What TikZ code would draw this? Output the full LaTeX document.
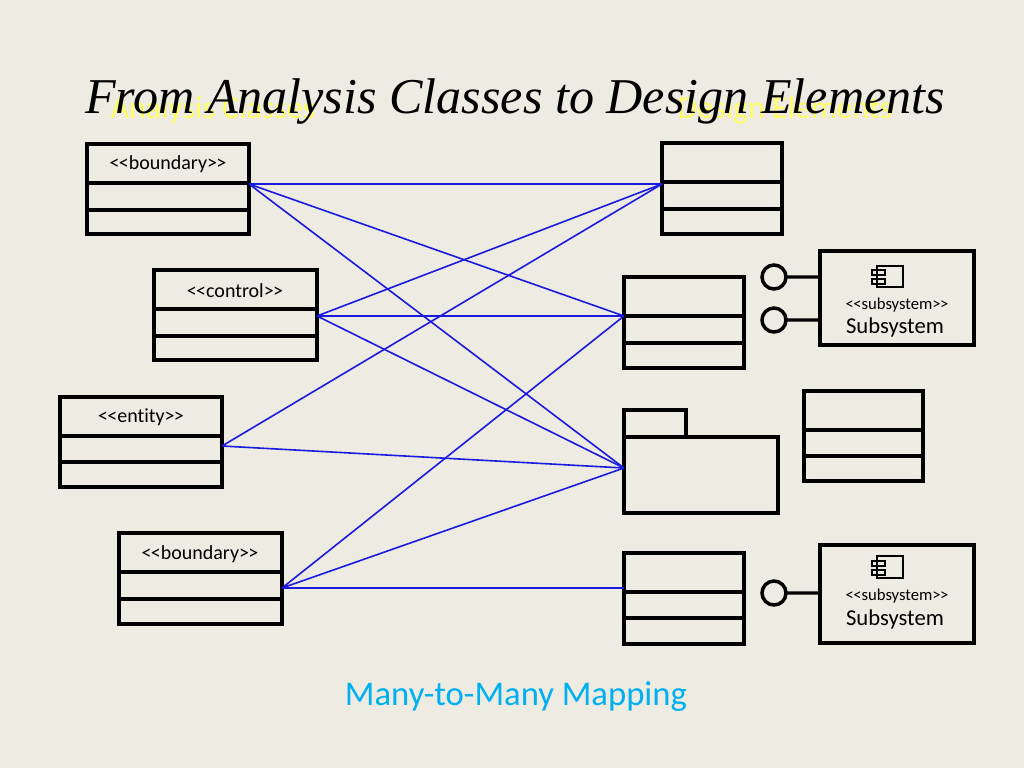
\documentclass[tikz,border=0pt]{standalone}
\usepackage{fontspec}
\setmainfont[Ligatures=NoCommon]{Carlito}
\newfontfamily\titlefont{Liberation Serif}
\definecolor{bg}{HTML}{EEEBE2}
\definecolor{ln}{HTML}{1A1AE0}
\definecolor{yl}{HTML}{FFFF66}
\definecolor{cy}{HTML}{00B0F0}
\newcommand\st[1]{<\kern-0.5pt<#1>\kern-0.5pt>}
\begin{document}
\begin{tikzpicture}[x=0.75pt,y=-0.75pt,
  bx/.style={draw=black,line width=2.6pt},
  con/.style={draw=ln,line width=1.2pt},
  lab/.style={font=\fontsize{15}{17}\selectfont,inner sep=0},
  cmp/.style={draw=black,line width=1pt}]
\fill[bg] (0,0) rectangle (1024,768);
\useasboundingbox (0,0) rectangle (1024,768);
% yellow labels
\node[yl,font=\fontsize{24}{26}\selectfont] (la) at (213,110) {Analysis Classes};
\node[yl,font=\fontsize{24}{26}\selectfont] (ld) at (785,110) {Design Elements};
\node (title) at (515,102) {\resizebox{645pt}{!}{\titlefont\itshape From Analysis Classes to Design Elements}};
% analysis classes
\draw[bx] (87,144) rectangle (249,234); \draw[bx] (87,183)--(249,183) (87,210)--(249,210);
\node[lab] (a1) at (168,164) {\st{boundary}};
\draw[bx] (154,270) rectangle (317,360); \draw[bx] (154,309)--(317,309) (154,336)--(317,336);
\node[lab] (a2) at (235,291) {\st{control}};
\draw[bx] (60,397) rectangle (222,487); \draw[bx] (60,436)--(222,436) (60,462)--(222,462);
\node[lab] (a3) at (141,417) {\st{entity}};
\draw[bx] (119,533) rectangle (282,624); \draw[bx] (119,572)--(282,572) (119,599)--(282,599);
\node[lab] (a4) at (200,554) {\st{boundary}};
% design elements
\draw[bx] (662,143) rectangle (782,234); \draw[bx] (662,182)--(782,182) (662,209)--(782,209);
\draw[bx] (624,277) rectangle (744,368); \draw[bx] (624,316)--(744,316) (624,343)--(744,343);
\draw[bx] (624,410) rectangle (686,437); \draw[bx] (624,437) rectangle (778,513);
\draw[bx] (804,391) rectangle (923,481); \draw[bx] (804,430)--(923,430) (804,456)--(923,456);
\draw[bx] (624,553) rectangle (744,644); \draw[bx] (624,592)--(744,592) (624,618)--(744,618);
% subsystems
\draw[bx] (820,251) rectangle (974,345);
\draw[bx] (774,277) circle (12) (786,277)--(820,277);
\draw[bx] (774,320) circle (12) (786,320)--(820,320);
\draw[cmp] (877,266) rectangle (903,287) (872,270) rectangle (885,275) (872,279) rectangle (885,284);
\node[inner sep=0,font=\fontsize{12.5}{14}\selectfont] (s1a) at (897,305) {\st{subsystem}};
\node[inner sep=0,font=\fontsize{17}{19}\selectfont] (s1b) at (895,327) {Subsystem};
\draw[bx] (820,545) rectangle (974,643);
\draw[bx] (774,593) circle (12) (786,593)--(820,593);
\draw[cmp] (877,556) rectangle (903,578) (872,561) rectangle (885,566) (872,570) rectangle (885,575);
\node[inner sep=0,font=\fontsize{12.5}{14}\selectfont] (s2a) at (897,596) {\st{subsystem}};
\node[inner sep=0,font=\fontsize{17}{19}\selectfont] (s2b) at (895,619) {Subsystem};
% connection points
\coordinate (A1) at (249,184); \coordinate (A2) at (317,316);
\coordinate (A3) at (222,446); \coordinate (A4) at (282,588);
\coordinate (D1) at (662,184); \coordinate (D2) at (624,316);
\coordinate (P) at (624,468); \coordinate (D4) at (624,588);
\draw[con] (A1)--(D1) (A1)--(D2) (A1)--(P);
\draw[con] (A2)--(D1) (A2)--(D2) (A2)--(P);
\draw[con] (A3)--(D1) (A3)--(P);
\draw[con] (A4)--(D2) (A4)--(P) (A4)--(D4);
\node[cy,font=\fontsize{26}{28}\selectfont] (cap) at (516,697) {Many-to-Many Mapping};
\end{tikzpicture}
\end{document}
